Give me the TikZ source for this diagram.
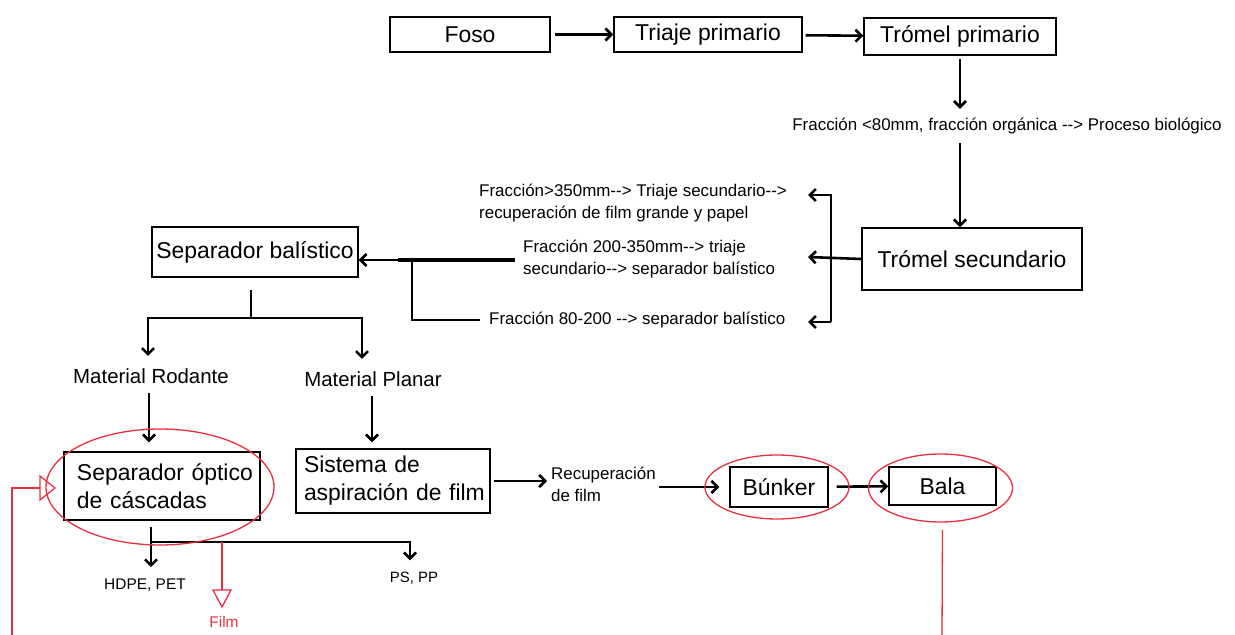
\documentclass[tikz,border=0pt]{standalone}
\usepackage{fontspec}
\setmainfont{Liberation Sans}
\usetikzlibrary{arrows.meta}
\definecolor{rojo}{RGB}{232,48,64}
\newcommand\flechita{-{}-{}>}
\tikzset{
  caja/.style={draw,line width=1.4bp,font=\fontsize{23}{28}\selectfont,inner sep=0pt},
  nota/.style={font=\fontsize{17}{22}\selectfont,inner sep=1bp,align=left},
  flecha/.style={->,line width=2.6bp},
  marca/.style={draw=rojo,line width=1.3bp},
}
\begin{document}
\begin{tikzpicture}[x=1bp,y=-1bp,>={Straight Barb[length=6bp,width=12bp]}]
\useasboundingbox (0,0) rectangle (1235,635);
% linea principal
\node[caja,minimum width=160bp,minimum height=35bp] (foso) at (470,34.5) {Foso};
\node[caja,minimum width=188bp,minimum height=35bp] (triaje) at (708,34.5) {Triaje primario};
\node[caja,minimum width=192bp,minimum height=37bp] (tromel1) at (960,36.5) {Trómel primario};
\node[nota] (organica) at (1007,126) {Fracción <80mm, fracción orgánica \flechita{} Proceso biológico};
\node[caja,minimum width=220bp,minimum height=62bp] (tromel2) at (972,259) {Trómel secundario};
\draw[flecha,shorten <=4bp] (foso) -- (triaje);
\draw[flecha,shorten <=3bp] (triaje) -- (tromel1);
\draw[flecha,shorten <=3bp,shorten >=8bp] (tromel1.south) -- (tromel1.south |- organica.north);
\draw[flecha] (tromel1.south |- organica.south) ++(0,8) -- (tromel1.south |- tromel2.north);
% fracciones del tromel secundario
\node[nota,anchor=west] (f350) at (478,203) {Fracción>350mm\flechita{} Triaje secundario\flechita\\recuperación de film grande y papel};
\node[nota,anchor=west] (f200) at (522,259) {Fracción 200-350mm\flechita{} triaje\\secundario\flechita{} separador balístico};
\node[nota,anchor=west] (f80) at (488,320) {Fracción 80-200 \flechita{} separador balístico};
\coordinate (brk) at (831,257);
\coordinate (p1) at (808,195);
\coordinate (p2) at (808,257);
\coordinate (p3) at (808,322);
\draw[flecha] (tromel2.west) -- (p2);
\draw[flecha] (brk |- p3) -- (brk |- p1) -- (p1);
\draw[flecha] (brk |- p3) -- (p3);
% separador balistico
\node[caja,minimum width=206bp,minimum height=50bp] (balistico) at (255,252) {Separador balístico};
\coordinate (s0) at (398,260);
\coordinate (s1) at (515,260);
\coordinate (s2) at (412,260);
\draw[line width=3.5bp] (s0) -- (s1);
\draw[flecha] (s0) -- (balistico.east |- s0);
\draw[line width=2.6bp] (s2) |- ([xshift=-8bp]f80.west);
\node[font=\fontsize{20.5}{24}\selectfont] (rodante) at (151,376) {Material Rodante};
\node[font=\fontsize{20.5}{24}\selectfont] (planar) at (373,379) {Material Planar};
\coordinate (b0) at (251,290);
\coordinate (b1) at (251,318);
\draw[line width=2.6bp] (b0) -- (b1);
\draw[flecha,shorten >=9bp] (b1) -| (rodante.north -| 148,0);
\draw[flecha,shorten >=9bp] (b1) -| (planar.north -| 362,0);
% separadores
\node[caja,minimum width=196bp,minimum height=68bp,text width=190bp,inner xsep=3bp,align=left] (optico) at (162,486) {\hspace*{10bp}Separador óptico\\\hspace*{10bp}de cáscadas};
\node[caja,minimum width=194bp,minimum height=64bp,text width=190bp,inner xsep=2bp,align=left] (aspiracion) at (393,481) {\hspace*{6bp}Sistema de\\\hspace*{6bp}aspiración de film};
\draw[flecha,shorten <=6bp,shorten >=9bp] (rodante.south -| 149,0) -- (optico.north -| 149,0);
\draw[flecha,shorten <=6bp,shorten >=6bp] (planar.south -| 372,0) -- (aspiracion.north -| 372,0);
\node[nota,anchor=west] (recuperacion) at (550,484) {Recuperación\\de film};
\node[caja,minimum width=98bp,minimum height=40bp] (bunker) at (779,487) {Búnker};
\node[caja,minimum width=107bp,minimum height=38bp] (bala) at (942.5,486) {Bala};
\draw[flecha,shorten <=3bp] (aspiracion.east |- 0,481) -- ([xshift=-3bp]recuperacion.west |- 0,481);
\draw[flecha] (recuperacion.east |- bunker) ++(2,0) -- ([xshift=-10bp]bunker.west);
\draw[flecha,shorten <=8bp] (bunker) -- (bala);
% salidas del separador optico
\node[font=\fontsize{15.5}{18}\selectfont] (hdpe) at (145,585) {HDPE, PET};
\node[font=\fontsize{15}{18}\selectfont] (pspp) at (414,578) {PS, PP};
\coordinate (o1) at (151,527);
\coordinate (o2) at (151,542);
\draw[flecha,shorten >=8bp] (o1) -- (hdpe.north -| o1);
\draw[flecha,shorten >=8bp] (o2) -| (pspp.north -| 410,0);
% marcas en rojo
\draw[marca] (optico.center) ++(-2,1) ellipse [x radius=114, y radius=58];
\draw[marca] (bunker.center) ++(-2,0) ellipse [x radius=72, y radius=32];
\draw[marca] (bala.center) ++(-2,2) ellipse [x radius=72, y radius=34];
\node[text=rojo,font=\fontsize{15.5}{18}\selectfont] (film) at (224,622) {Film};
\draw[marca] (222,542) -- (222,590);
\draw[marca] (213,590) -- (231,590) -- (222,607) -- cycle;
\draw[marca] (12,635) -- (12,488) -- (40,488);
\draw[marca] (40,476) -- (55,488) -- (40,500) -- cycle;
\draw[marca] (bala.south) ++(0,24) -- (942,635);
\end{tikzpicture}
\end{document}
